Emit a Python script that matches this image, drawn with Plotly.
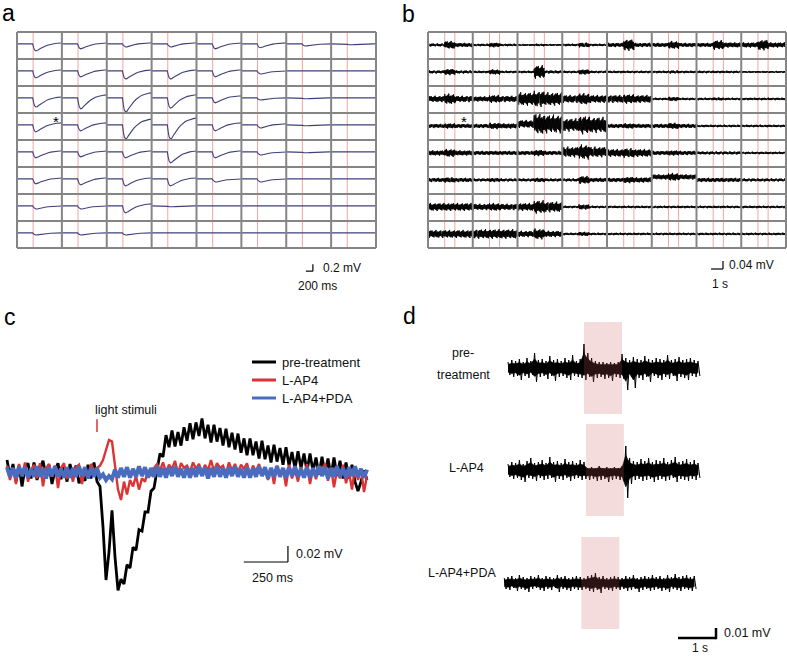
import plotly.graph_objects as go

W, H = 787, 656
FONT = "Liberation Sans, Arial, Helvetica, sans-serif"

# ---------------- panel a : 8x8 field potentials ----------------
A_SWEEP_MS = 1280          # sweep length per cell
A_CELL_MV = 0.77           # vertical extent per cell
A_BASE_FRAC = 0.44         # baseline position inside a cell (from top)
A_STIM_FRAC = 0.36         # light onset (fraction of sweep)
A_T = [0, 0.1, 0.2, 0.3, 0.35, 0.37, 0.39, 0.42, 0.45, 0.48, 0.52,
       0.56, 0.6, 0.65, 0.7, 0.75, 0.8, 0.85, 0.9, 0.95, 1.0]
A_DIP = [0, 0, 0, 0, 0, -0.5, -0.85, -1.0, -0.97, -0.85, -0.72,
         -0.6, -0.5, -0.38, -0.28, -0.2, -0.14, -0.09, -0.06, -0.03, -0.02]
A_RISE = [0, 0, 0, 0, 0, 0, 0, 0, 0.05, 0.15, 0.3,
          0.45, 0.58, 0.7, 0.8, 0.87, 0.92, 0.95, 0.97, 0.99, 1.0]
A_AMP = [[0.20, 0.14, 0.09, 0.09, 0.14, 0.11, 0.06, 0.03],
         [0.20, 0.17, 0.23, 0.23, 0.17, 0.09, 0.02, 0.01],
         [0.26, 0.31, 0.40, 0.29, 0.14, 0.06, 0.03, 0.01],
         [0.20, 0.17, 0.40, 0.40, 0.17, 0.09, 0.03, 0.01],
         [0.17, 0.14, 0.17, 0.31, 0.17, 0.09, 0.03, 0.01],
         [0.14, 0.17, 0.20, 0.20, 0.09, 0.09, 0.01, 0.01],
         [0.09, 0.09, 0.20, 0.03, 0.01, 0.01, 0.01, 0.01],
         [0.06, 0.06, 0.06, 0.01, 0.01, 0.00, 0.00, 0.00]]
A_REB = [[0.03, 0.03, 0.03, 0.03, 0.03, 0.03, 0.00, 0.00],
         [0.03, 0.03, 0.03, 0.03, 0.03, 0.00, 0.00, 0.00],
         [0.03, 0.09, 0.15, 0.09, 0.06, 0.00, 0.00, 0.00],
         [0.06, 0.06, 0.17, 0.20, 0.06, 0.03, 0.00, 0.00],
         [0.03, 0.03, 0.03, 0.03, 0.03, 0.00, 0.00, 0.00],
         [0.03, 0.03, 0.03, 0.03, 0.00, 0.00, 0.00, 0.00],
         [0.00, 0.00, 0.06, 0.00, 0.00, 0.00, 0.00, 0.00],
         [0.00, 0.00, 0.00, 0.00, 0.00, 0.00, 0.00, 0.00]]

# ---------------- panel b : 8x8 spike recordings ----------------
B_SWEEP_S = 3.75
B_CELL_UV = 135
B_BASE_FRAC = 0.48
B_STIM = [1.4, 2.25]       # red markers (s)
B_NSAMP = 113
B_TEXTURE = [1.0, 0.7, 1.15, 0.85, 0.6, 1.05, 0.8, 1.35, 0.9, 0.7, 1.1, 0.8, 0.95, 0.65, 1.2, 0.85, 0.75]
B_PRE = [[6, 5, 4, 5, 8, 8, 8, 10],
         [6, 5, 5, 5, 5, 5, 5, 4],
         [12, 10, 25, 15, 15, 5, 5, 5],
         [8, 8, 15, 25, 8, 8, 5, 5],
         [10, 8, 8, 20, 15, 8, 6, 5],
         [8, 6, 6, 6, 8, 10, 8, 6],
         [15, 12, 15, 5, 5, 5, 5, 5],
         [15, 18, 12, 5, 5, 5, 5, 5]]
B_DUR = [[15, 9, 5, 9, 22, 15, 18, 20],
         [12, 10, 25, 10, 5, 6, 5, 4],
         [20, 15, 30, 22, 18, 8, 6, 5],
         [10, 12, 40, 35, 10, 12, 5, 5],
         [15, 8, 12, 28, 18, 10, 6, 5],
         [10, 8, 8, 15, 12, 15, 8, 6],
         [15, 15, 25, 10, 5, 5, 5, 5],
         [15, 18, 20, 8, 5, 5, 5, 5]]
B_POST = [[8, 5, 4, 5, 8, 8, 10, 10],
          [6, 5, 6, 5, 5, 5, 5, 4],
          [12, 12, 25, 15, 15, 5, 5, 5],
          [8, 10, 35, 30, 8, 8, 5, 5],
          [10, 8, 8, 20, 15, 8, 6, 5],
          [8, 6, 6, 8, 10, 10, 8, 6],
          [15, 12, 20, 5, 5, 5, 5, 5],
          [15, 18, 12, 5, 5, 5, 5, 5]]
B_SHIFT = [[0, 0, 0, 0, 0, 0, 0, 0],
           [0, 0, 0, 0, 0, 0, 0, 0],
           [0, 0, 0, 0, 0, 0, 0, 0],
           [0, 0, 10, 5, 0, 0, 0, 0],
           [0, 0, 0, 5, 0, 0, 0, 0],
           [0, 0, 0, 0, 0, 15, 0, 0],
           [0, 0, 0, 0, 0, 0, 0, 0],
           [0, 0, 0, 0, 0, 0, 0, 0]]

# ---------------- panel c : averaged response (uV) ----------------
C_DT_MS = 17
C_STIM_MS = 510
C_BLACK = [15, -5, 10, -12, 8, -18, 5, 11, -8, 12, -10, 4, 14, -6, 9, -15, 2, 11, -9, 6,
           -12, 10, -4, 8, -14, -5, -11, 9, -8, 12,
           -12, -18, -69, -135, -100, -48, -106, -148, -134, -140, -116, -120, -94, -98,
           -72, -74, -50, -50, -24, -20, 2,
           23, 19, 46, 31, 52, 32, 50, 33, 56, 39, 61, 41, 62, 45, 67, 42, 59, 37, 59, 38,
           55, 33, 54, 31, 49, 28, 48, 24, 42, 21, 42, 21, 38, 17, 39, 16, 33, 12, 34, 13,
           30, 9, 31, 8, 25, 4, 26, 5, 23, 1, 23, 1, 18, -3, 19, -2, 17, -5, 18, -5,
           14, -8, 12, -8, 9, -12, -24, -12, 2, -10]
C_RED = [8, -10, 5, -15, 10, -5, 12, -12, 2, 9, -8, 11, -18, 4, 10, -6, 8, -20, 5, 11,
         -9, 2, -12, 6, 9, -15, 4, -8, 10, 2,
         5, 8, 15, 28, 40, 38, 10, -22, -35, -12, -28, -10, -18, -5, -22, -8, -12, 2, -5, 5,
         10, 2, 12, 0, 9, 4, 14, -2, 11, 5, 8, 0, 12, 4, 10, -1, 9, 2, 15, 1, 11, 5, 8, -2,
         12, 2, 10, 0, 9, 4, 11, -4, 8, 1, 10, -2,
         6, -10, 5, -15, 8, -6, 4, -18, 9, -8, 2, -12, 6, -5, 10, -15, 4, -9, 8, -4, 11, -11,
         5, -19, 2, -8, 9, -14, 1, -22, 6, -10, 4, -25, -5]
C_BLUE = [6, -6, 5, -7, 7, -5, 6, -7, 4, -6, 7, -6, 5, -8, 6, -5, 7, -6, 4, -7,
          6, -7, 5, -6, 7, -5, 6, -8, 5, -6, 5, -7, -3, -10, -5, -9, 3, -7, 5, -6,
          6, -7, 4, -6, 7, -5, 6, -7, 5, -6, 7, -6, 5, -7, 6, -5, 7, -6, 4, -7,
          6, -7, 5, -6, 7, -5, 6, -8, 5, -6, 7, -6, 5, -7, 6, -5, 7, -6, 4, -7,
          6, -7, 5, -6, 7, -5, 6, -8, 5, -6, 7, -6, 5, -7, 6, -5, 7, -6, 4, -7,
          6, -7, 5, -6, 7, -5, 6, -8, 5, -6, 7, -6, 5, -7, 6, -5, 7, -6, 4, -7, 3]
C_NAMES = ["pre-treatment", "L-AP4", "L-AP4+PDA"]
C_COLORS = ["#000000", "#dd3333", "#4a6cbf"]

# ---------------- panel d : single-channel spike bands (uV) ----------------
D_DT = 0.1
D_START = [0.0, 0.0, -0.1]
D_LIGHT_ON = [2.0, 2.05, 2.03]
D_LIGHT_DUR = 1.0
D_OFFSET_UV = [0, -102, -215]
D_UP = [[6, 8, 7, 9, 6, 10, 7, 15, 8, 9, 7, 12, 8, 9, 7, 10, 8, 13, 7, 9,
         24, 15, 10, 7, 6, 6, 5, 6, 5, 6, 14, 10, 8, 11, 9, 8, 12, 9, 8, 10,
         9, 8, 13, 8, 9, 11, 8, 9, 10, 8, 7],
        [6, 8, 7, 10, 6, 9, 12, 7, 8, 10, 7, 13, 8, 9, 7, 11, 8, 9, 7, 10,
         8, 2, 3, 2, 4, 2, 3, 2, 3, 2, 4, 24, 12, 9, 8, 11, 9, 12, 8, 10,
         9, 12, 8, 10, 13, 8, 9, 11, 8, 10, 7],
        [5, 6, 7, 5, 8, 6, 5, 7, 6, 8, 5, 7, 6, 5, 8, 6, 7, 5, 6, 7,
         6, 5, 7, 8, 10, 6, 7, 5, 6, 7, 6, 5, 7, 6, 8, 5, 6, 7, 6, 8,
         6, 7, 5, 8, 6, 9, 6, 7, 8, 6, 7]]
D_LO = [[-7, -9, -8, -12, -8, -10, -7, -14, -9, -8, -11, -8, -13, -9, -8, -10, -12, -8, -9, -10,
         -12, -9, -14, -10, -9, -11, -10, -13, -9, -10, -11, -22, -9, -20, -10, -12, -9, -14, -8, -10,
         -12, -9, -11, -8, -13, -9, -10, -12, -8, -9, -8],
        [-7, -9, -8, -10, -12, -8, -9, -11, -8, -10, -9, -8, -12, -9, -10, -8, -11, -9, -8, -10,
         -9, -10, -9, -11, -10, -9, -12, -10, -9, -10, -11, -28, -14, -10, -9, -11, -10, -9, -12, -10,
         -9, -11, -10, -8, -12, -9, -10, -11, -9, -10, -8],
        [-6, -7, -5, -8, -6, -7, -9, -6, -5, -7, -8, -6, -7, -5, -9, -6, -7, -8, -6, -7,
         -7, -6, -8, -9, -7, -10, -6, -7, -8, -6, -7, -6, -8, -7, -6, -9, -7, -6, -8, -7,
         -6, -8, -7, -9, -6, -7, -8, -6, -7, -8, -6]]

# ---------------- layout helpers ----------------
def px_x(px):
    return px / W


def px_y(py):
    return 1 - py / H


layout_axes = {}


def make_axes(n, box, x0px, xs, y0px, ys):
    left, right, top, bottom = box
    sx = "" if n == 1 else str(n)
    layout_axes["xaxis" + sx] = dict(domain=[left / W, right / W],
                                     range=[(left - x0px) / xs, (right - x0px) / xs],
                                     visible=False, fixedrange=True, anchor="y" + sx)
    layout_axes["yaxis" + sx] = dict(domain=[1 - bottom / H, 1 - top / H],
                                     range=[(y0px - bottom) / ys, (y0px - top) / ys],
                                     visible=False, fixedrange=True, anchor="x" + sx)


make_axes(1, (13, 380, 28, 300), 17, 359 / (8 * A_SWEEP_MS), 32, 27 / A_CELL_MV)
make_axes(2, (424, 787, 28, 300), 428, 358 / (8 * B_SWEEP_S), 32, 27 / (B_CELL_UV / 1000))
make_axes(3, (0, 390, 405, 610), 7, 360 / (C_DT_MS * (len(C_BLACK) - 1)), 472, 0.8)
make_axes(4, (415, 787, 300, 656), 508, 38, 368, 1.0)

GRID = "#858585"
STIM_RED = "rgba(232,90,90,0.55)"
shapes = []
annots = []


def seg(xr, yr, x0, y0, x1, y1, color, width, layer="above"):
    shapes.append(dict(type="line", xref=xr, yref=yr, x0=x0, y0=y0, x1=x1, y1=y1,
                       line=dict(color=color, width=width), layer=layer))


def text(px, py, s, size=12, anchor="left", color="#111"):
    annots.append(dict(x=px_x(px), y=px_y(py), xref="paper", yref="paper", text=s,
                       showarrow=False, xanchor=anchor, yanchor="middle",
                       font=dict(family=FONT, size=size, color=color)))


fig = go.Figure()

# ---- panel a ----
ax, ay = [], []
for r in range(8):
    for c in range(8):
        base = -(r + A_BASE_FRAC) * A_CELL_MV
        for k in range(len(A_T)):
            ax.append((c + A_T[k]) * A_SWEEP_MS)
            ay.append(base + A_AMP[r][c] * A_DIP[k] + A_REB[r][c] * A_RISE[k])
        ax.append(None)
        ay.append(None)
fig.add_trace(go.Scatter(x=ax, y=ay, mode="lines", line=dict(color="#3d4178", width=1.1),
                         xaxis="x", yaxis="y", hoverinfo="skip"))
for c in range(8):
    xx = (c + A_STIM_FRAC) * A_SWEEP_MS
    seg("x", "y", xx, 0, xx, -8 * A_CELL_MV, STIM_RED, 1, "below")
for i in range(9):
    seg("x", "y", i * A_SWEEP_MS, 0, i * A_SWEEP_MS, -8 * A_CELL_MV, GRID, 2)
    seg("x", "y", 0, -i * A_CELL_MV, 8 * A_SWEEP_MS, -i * A_CELL_MV, GRID, 2)
sbx, sby = 8440, -6.82
seg("x", "y", sbx - 200, sby, sbx, sby, "#000", 1.2)
seg("x", "y", sbx, sby, sbx, sby + 0.2, "#000", 1.2)
text(321, 268, "0.2 mV")
text(296, 286, "200 ms")
text(56, 121, "*", size=15, anchor="center", color="#000")

# ---- panel b ----
bx, by = [], []
for r in range(8):
    for c in range(8):
        base = (-(r + B_BASE_FRAC) * B_CELL_UV + B_SHIFT[r][c]) / 1000
        for k in range(B_NSAMP):
            t = k * B_SWEEP_S / (B_NSAMP - 1)
            if t < B_STIM[0]:
                env = B_PRE[r][c]
            elif t < B_STIM[1]:
                env = B_DUR[r][c]
            else:
                env = B_POST[r][c]
            sign = 1 if k % 2 == 0 else -1
            tex = B_TEXTURE[(k + 3 * r + 5 * c) % len(B_TEXTURE)]
            bx.append(c * B_SWEEP_S + t)
            by.append(base + sign * env * tex / 1000)
        bx.append(None)
        by.append(None)
fig.add_trace(go.Scatter(x=bx, y=by, mode="lines", line=dict(color="#000", width=0.9),
                         xaxis="x2", yaxis="y2", hoverinfo="skip"))
b_h = 8 * B_CELL_UV / 1000
for c in range(8):
    for s in B_STIM:
        seg("x2", "y2", c * B_SWEEP_S + s, 0, c * B_SWEEP_S + s, -b_h, STIM_RED, 1, "below")
for i in range(9):
    seg("x2", "y2", i * B_SWEEP_S, 0, i * B_SWEEP_S, -b_h, GRID, 2)
    seg("x2", "y2", 0, -i * B_CELL_UV / 1000, 8 * B_SWEEP_S, -i * B_CELL_UV / 1000, GRID, 2)
sbx, sby = 24.72, -1.185
seg("x2", "y2", sbx - 1, sby, sbx, sby, "#000", 1.2)
seg("x2", "y2", sbx, sby, sbx, sby + 0.04, "#000", 1.2)
text(727, 265, "0.04 mV")
text(710, 284, "1 s")
text(464, 121, "*", size=15, anchor="center", color="#000")

# ---- panel c ----
ct = [i * C_DT_MS for i in range(len(C_BLACK))]
widths = [2.8, 2.4, 4.0]
for ys, col, w, name in zip([C_BLACK, C_RED, C_BLUE], C_COLORS, widths, C_NAMES):
    fig.add_trace(go.Scatter(x=ct, y=ys, mode="lines", name=name,
                             line=dict(color=col, width=w), xaxis="x3", yaxis="y3",
                             hoverinfo="skip"))
seg("x3", "y3", C_STIM_MS, 50, C_STIM_MS, 66, "#dd3333", 1.5)
text(126, 410, "light stimuli", size=12.5, anchor="center")
for i, (name, col) in enumerate(zip(C_NAMES, C_COLORS)):
    yy = 362 + 18 * i
    shapes.append(dict(type="line", xref="paper", yref="paper", x0=px_x(252), x1=px_x(276),
                       y0=px_y(yy), y1=px_y(yy), line=dict(color=col, width=3)))
    text(280, yy, name, size=13)
sbx, sby = 1592, -112.5
seg("x3", "y3", sbx - 250, sby, sbx, sby, "#000", 1.2)
seg("x3", "y3", sbx, sby, sbx, sby + 20, "#000", 1.2)
text(294, 554, "0.02 mV", size=12.5)
text(250, 578, "250 ms", size=12.5)

# ---- panel d ----
for j in range(3):
    n = len(D_UP[j])
    t = [D_START[j] + k * D_DT for k in range(n)]
    off = D_OFFSET_UV[j]
    core_up = [off + 0.6 * v for v in D_UP[j]]
    core_lo = [off + 0.6 * v for v in D_LO[j]]
    fig.add_trace(go.Scatter(x=t + t[::-1], y=core_up + core_lo[::-1], mode="lines",
                             fill="toself", fillcolor="#000", line=dict(color="#000", width=0.6),
                             xaxis="x4", yaxis="y4", hoverinfo="skip"))
    zx, zy = [], []
    for k in range(n):
        zx += [t[k], t[k] + D_DT / 2]
        zy += [off + D_UP[j][k], off + D_LO[j][k]]
    fig.add_trace(go.Scatter(x=zx, y=zy, mode="lines", line=dict(color="#000", width=1),
                             xaxis="x4", yaxis="y4", hoverinfo="skip"))
    x0 = D_START[j] + D_LIGHT_ON[j]
    shapes.append(dict(type="rect", xref="x4", yref="y4", x0=x0, x1=x0 + D_LIGHT_DUR,
                       y0=off - 46, y1=off + 46,
                       fillcolor="rgba(205,90,90,0.21)", line=dict(width=0), layer="above"))
text(463, 353, "pre-", size=12.5, anchor="center")
text(463, 375, "treatment", size=12.5, anchor="center")
text(466, 468, "L-AP4", size=12.5, anchor="center")
text(462, 573, "L-AP4+PDA", size=12.5, anchor="center")
sbx, sby = 5.474, -270
seg("x4", "y4", sbx - 1, sby, sbx, sby, "#000", 2.5)
seg("x4", "y4", sbx, sby - 1.2, sbx, sby + 10, "#000", 2.5)
text(722, 633, "0.01 mV", size=12.5)
text(700, 648, "1 s", size=12, anchor="center")

# ---- panel letters ----
for lbl, px, py in [("a", 8, 13), ("b", 408, 14), ("c", 10, 317), ("d", 409, 316)]:
    text(px, py, lbl, size=23, anchor="center", color="#000")

fig.update_layout(width=W, height=H, margin=dict(l=0, r=0, t=0, b=0),
                  paper_bgcolor="white", plot_bgcolor="rgba(0,0,0,0)", showlegend=False,
                  shapes=shapes, annotations=annots, **layout_axes)
fig.write_html("out.html", config={"displayModeBar": False},
               post_script="document.body.style.margin='0px';")
